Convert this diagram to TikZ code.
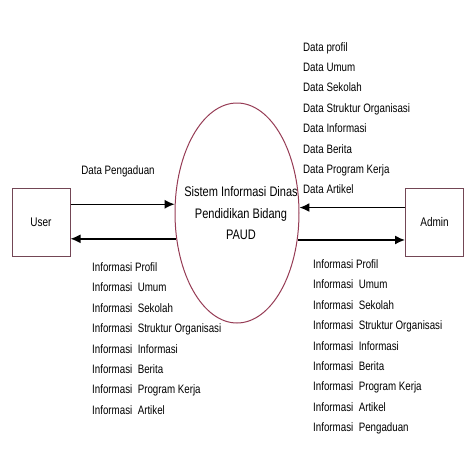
\documentclass[tikz,border=0pt]{standalone}
\usepackage{fontspec}
\setmainfont[FakeStretch=0.8]{Liberation Sans}
\usetikzlibrary{arrows.meta}
\usetikzlibrary{shapes.geometric}
\usetikzlibrary{positioning}
\definecolor{mbox}{RGB}{115, 70, 85}
\definecolor{mproc}{RGB}{150, 60, 85}

\begin{document}
\begin{tikzpicture}[x=1pt, y=-1pt,
    entity/.style={draw=mbox, line width=1pt, minimum width=58pt, minimum height=68pt, inner sep=0pt, font=\fontsize{12.5}{14}\selectfont},
    proc/.style={ellipse, draw=mproc, line width=1pt, minimum width=124pt, minimum height=220pt, inner sep=0pt},
    proctext/.style={align=center, inner sep=0pt, font=\fontsize{13.8}{21.5}\selectfont},
    flowlist/.style={anchor=north west, align=left, inner sep=0pt, font=\fontsize{12.2}{20.4}\selectfont},
    flow/.style={-{Latex[length=10pt, width=9pt]}, line width=1.5pt}]
    \useasboundingbox (0, 0) rectangle (474, 474);

    \node [entity] (user) at (41, 222) {User};
    \node [entity] (admin) at (434.5, 222.5) {Admin};
    \node [proc] (proc) at (237, 213) {};
    \node [proctext] (proclabel) at (241, 213.5) {Sistem Informasi Dinas\\Pendidikan Bidang\\PAUD};

    \draw [flow] (user.east |- proc.172.6) -- (proc.172.6);
    \draw [flow] (proc.203.5) -- (user.east |- proc.203.5);
    \draw [flow] (admin.west |- proc.5.6) -- (proc.5.6);
    \draw [flow] (proc.336.5) -- (admin.west |- proc.336.5);

    \node [font=\fontsize{12.2}{14}\selectfont] (pengaduan) at (118, 171) {Data Pengaduan};

    \node [flowlist] (datalist) at (303, 42) {Data profil\\Data Umum\\Data Sekolah\\Data Struktur Organisasi\\Data Informasi\\Data Berita\\Data Program Kerja\\Data Artikel};

    \node [flowlist] (infouser) at (92, 262.5) {Informasi Profil\\Informasi~ Umum\\Informasi~ Sekolah\\Informasi~ Struktur Organisasi\\Informasi~ Informasi\\Informasi~ Berita\\Informasi~ Program Kerja\\Informasi~ Artikel};

    \node [flowlist] (infoadmin) at (313, 259.5) {Informasi Profil\\Informasi~ Umum\\Informasi~ Sekolah\\Informasi~ Struktur Organisasi\\Informasi~ Informasi\\Informasi~ Berita\\Informasi~ Program Kerja\\Informasi~ Artikel\\Informasi~ Pengaduan};
\end{tikzpicture}
\end{document}
